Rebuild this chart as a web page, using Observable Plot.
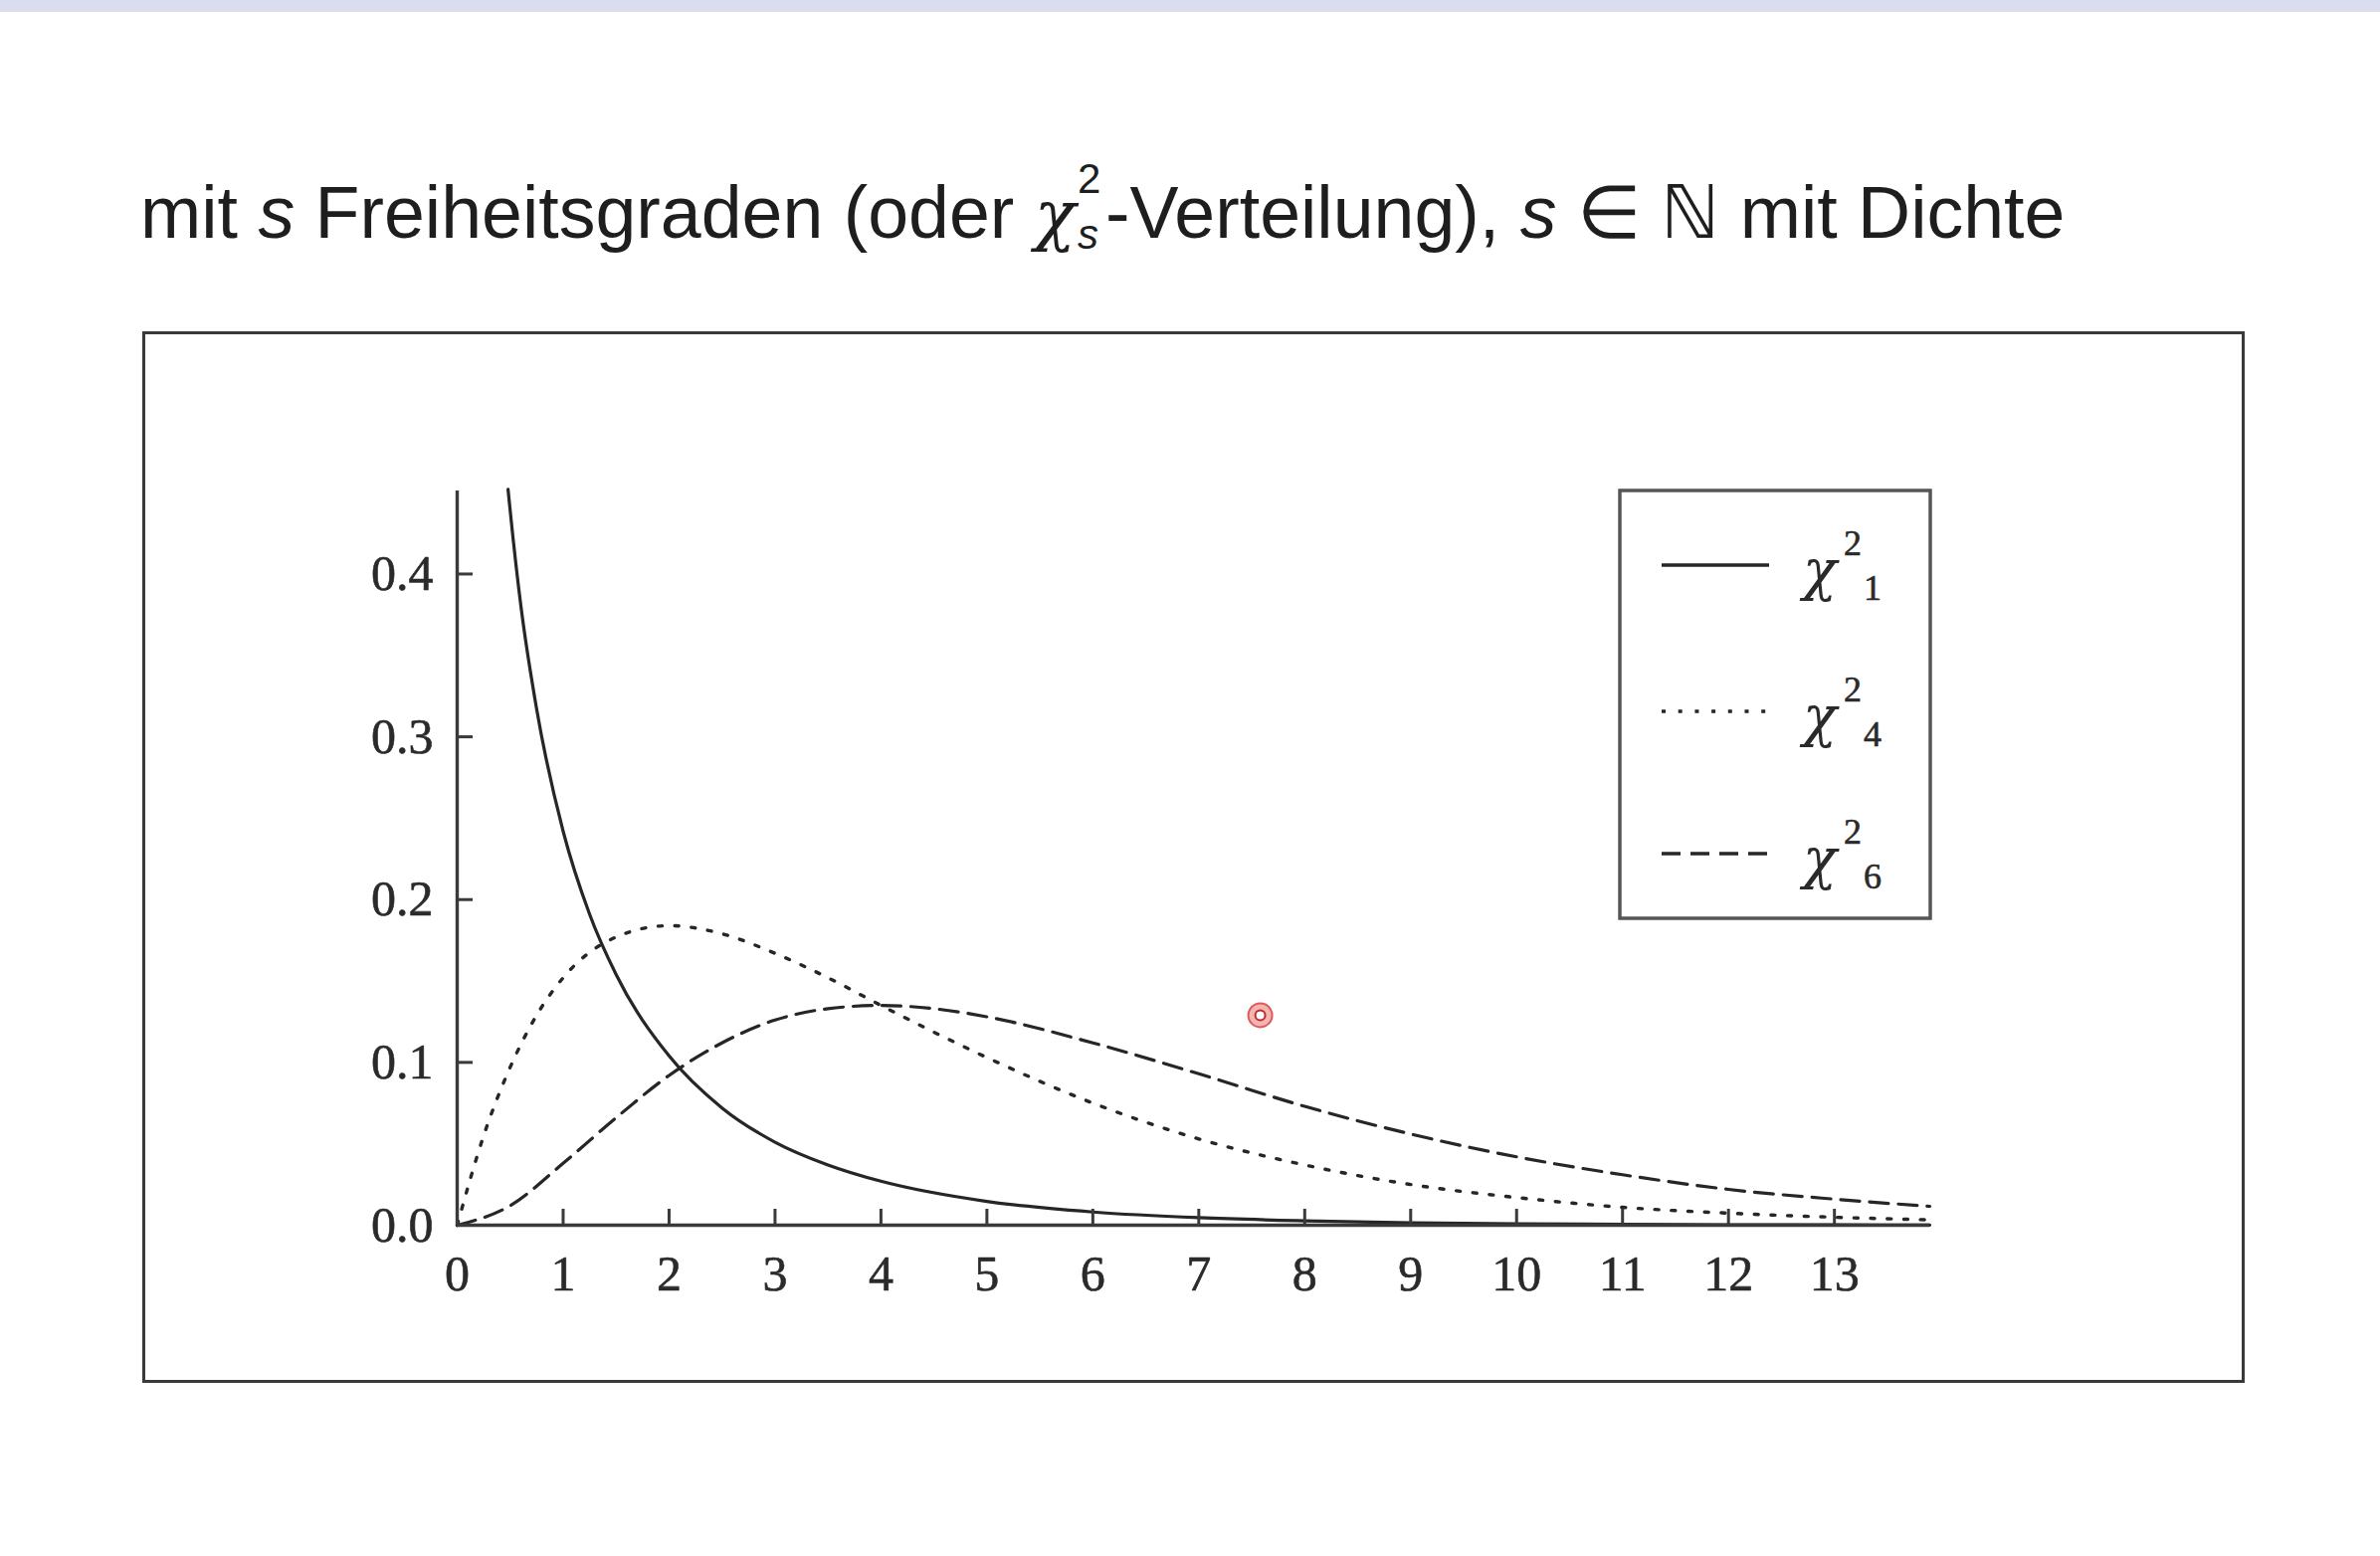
<!DOCTYPE html>
<html>
<head>
<meta charset="utf-8">
<script src="https://cdn.jsdelivr.net/npm/d3@7"></script>
<script src="https://cdn.jsdelivr.net/npm/@observablehq/plot@0.6"></script>
<style>
  html, body { margin: 0; padding: 0; background: #ffffff; }
  body { width: 2392px; height: 1564px; position: relative; overflow: hidden; }
  #topbar { position: absolute; left: 0; top: 0; width: 2392px; height: 12px; background: #dcdcef; }
  #title { position: absolute; left: 141px; top: 177px; font-family: "Liberation Sans", sans-serif; font-size: 73.5px; line-height: 74px; color: #1e1e1e; white-space: nowrap; }
  #title .chi { font-family: "DejaVu Serif", serif; font-style: italic; font-size: 68px; }
  #title .ss { position: relative; display: inline-block; width: 30px; height: 74px; vertical-align: top; }
  #title .ss .sup { position: absolute; left: 2px; top: -18px; font-size: 42px; line-height: 42px; }
  #title .ss .sub { position: absolute; left: 2px; top: 38px; font-size: 42px; line-height: 42px; font-style: italic; }
  #frame { position: absolute; left: 143px; top: 333px; width: 2113px; height: 1057px; box-sizing: border-box; border: 3px solid #3a3a3a; }
  #chart { position: absolute; left: 143px; top: 333px; }
  #legend { position: absolute; left: 0; top: 0; }
</style>
</head>
<body>
<div id="topbar"></div>
<div id="title">mit <i>s</i> Freiheitsgraden (oder <span class="chi">χ</span><span class="ss"><span class="sup">2</span><span class="sub">s</span></span>-Verteilung), <i>s</i> ∈ ℕ mit Dichte</div>
<div id="frame"></div>
<div id="chart"></div>
<svg id="legend" width="2392" height="1564"></svg>
<script>
// ---- data ----
const xTicks = [0, 1, 2, 3, 4, 5, 6, 7, 8, 9, 10, 11, 12, 13];
const yTicks = [0.0, 0.1, 0.2, 0.3, 0.4];

const chi1X = [0.48, 0.5, 0.6, 0.75, 1, 1.25, 1.5, 2, 2.5, 3, 3.5, 4, 5, 6, 7, 8, 9, 10, 11, 12, 13, 13.9];
const chi1Y = [0.452, 0.439, 0.381, 0.317, 0.242, 0.191, 0.154, 0.104, 0.072, 0.051, 0.037, 0.027, 0.0146, 0.0081, 0.0046, 0.0027, 0.0015, 0.0009, 0.0005, 0.0003, 0.0002, 0.0001];

const chi4X = [0, 0.25, 0.5, 0.75, 1, 1.5, 2, 2.5, 3, 3.5, 4, 5, 6, 7, 8, 9, 10, 11, 12, 13, 13.9];
const chi4Y = [0, 0.055, 0.097, 0.129, 0.152, 0.177, 0.184, 0.179, 0.167, 0.152, 0.135, 0.103, 0.075, 0.053, 0.037, 0.025, 0.017, 0.011, 0.0074, 0.0049, 0.0033];

const chi6X = [0, 0.5, 1, 1.5, 2, 2.5, 3, 3.5, 4, 4.5, 5, 6, 7, 8, 9, 10, 11, 12, 13, 13.9];
const chi6Y = [0, 0.012, 0.038, 0.066, 0.092, 0.112, 0.126, 0.133, 0.135, 0.133, 0.128, 0.112, 0.093, 0.073, 0.056, 0.042, 0.031, 0.022, 0.016, 0.0116];

const legendLabels = ["1", "4", "6"];
const pointer = [{x: 7.58, y: 0.129}];

// ---- build rows ----
const rows = (X, Y) => X.map((x, i) => ({x, y: Y[i]}));
const chi1 = rows(chi1X, chi1Y);
const chi4 = rows(chi4X, chi4Y);
const chi6 = rows(chi6X, chi6Y);

const ink = "#262626";
const serif = "Liberation Serif, DejaVu Serif, serif";

const chart = Plot.plot({
  width: 2113,
  height: 1057,
  marginLeft: 316,
  marginRight: 317,
  marginTop: 160,
  marginBottom: 159,
  x: {domain: [0, 13.9], axis: null},
  y: {domain: [0, 0.451], axis: null},
  style: {background: "transparent", overflow: "visible"},
  marks: [
    Plot.line(chi6, {x: "x", y: "y", stroke: ink, strokeWidth: 3.2, curve: "monotone-x", strokeDasharray: "19,10"}),
    Plot.line(chi4, {x: "x", y: "y", stroke: ink, strokeWidth: 3.4, curve: "monotone-x", strokeDasharray: "4,12.7"}),
    Plot.line(chi1, {x: "x", y: "y", stroke: ink, strokeWidth: 3.2, curve: "monotone-x"}),
    Plot.ruleX([0], {x: d => d, y1: () => 0, y2: () => 0.451, stroke: "#3a3a3a", strokeWidth: 3.4}),
    Plot.ruleY([0], {y: d => d, x1: () => 0, x2: () => 13.9, stroke: "#3a3a3a", strokeWidth: 3.4}),
    Plot.ruleX(xTicks.filter(d => d > 0), {x: d => d, y1: () => 0, y2: () => 0, insetTop: -16, stroke: "#3a3a3a", strokeWidth: 3}),
    Plot.ruleY(yTicks.filter(d => d > 0), {y: d => d, x1: () => 0, x2: () => 0, insetRight: -16, stroke: "#3a3a3a", strokeWidth: 3}),
    Plot.text(xTicks, {x: d => d, y: () => 0, dy: 49, text: d => String(d), fontSize: 50, fontFamily: serif, fill: "#2a2a2a", stroke: "#2a2a2a", strokeWidth: 0.6}),
    Plot.text(yTicks, {x: () => 0, y: d => d, dx: -24, textAnchor: "end", text: d => d.toFixed(1), fontSize: 50, fontFamily: serif, fill: "#2a2a2a", stroke: "#2a2a2a", strokeWidth: 0.6}),
    Plot.dot(pointer, {x: "x", y: "y", r: 12, fill: "#f4b4b4", stroke: "#e05a55", strokeWidth: 2}),
    Plot.dot(pointer, {x: "x", y: "y", r: 5, fill: "#ffffff", stroke: "#c42a25", strokeWidth: 2})
  ]
});
document.getElementById("chart").appendChild(chart);

// ---- legend ----
const lg = d3.select("#legend");
lg.append("rect").attr("x", 1628).attr("y", 493).attr("width", 312).attr("height", 430)
  .attr("fill", "none").attr("stroke", "#555").attr("stroke-width", 3.5);
const dashes = [null, "4,12.7", "19,10"];
const rowY = [568, 715, 858];
legendLabels.forEach((lab, i) => {
  const y = rowY[i];
  lg.append("line").attr("x1", 1670).attr("x2", 1778).attr("y1", y).attr("y2", y)
    .attr("stroke", ink).attr("stroke-width", 3.4)
    .attr("stroke-dasharray", dashes[i]);
  lg.append("text").attr("x", 1812).attr("y", y + 24).attr("font-family", "DejaVu Serif, serif")
    .attr("font-style", "italic").attr("font-size", 56).attr("fill", "#2a2a2a").text("χ");
  lg.append("text").attr("x", 1853).attr("y", y - 10).attr("font-family", serif)
    .attr("font-size", 36).attr("fill", "#2a2a2a").attr("stroke", "#2a2a2a").attr("stroke-width", 0.6).text("2");
  lg.append("text").attr("x", 1873).attr("y", y + 35).attr("font-family", serif)
    .attr("font-size", 36).attr("fill", "#2a2a2a").attr("stroke", "#2a2a2a").attr("stroke-width", 0.6).text(lab);
});
</script>
</body>
</html>
